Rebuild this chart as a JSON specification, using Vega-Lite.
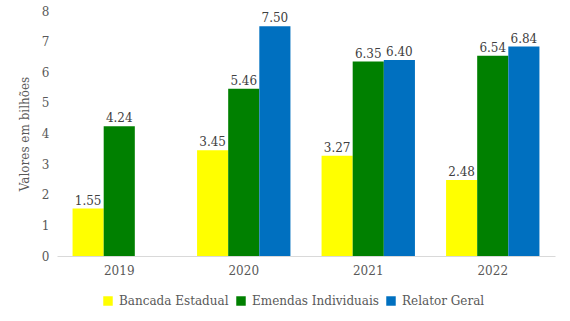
{
  "$schema": "https://vega.github.io/schema/vega-lite/v6.json",
  "autosize": {"type": "none"},
  "width": 498,
  "height": 245,
  "padding": {"left": 57, "top": 11, "right": 15, "bottom": 65},
  "background": "white",
  "config": {
    "font": "DejaVu Serif",
    "view": {"stroke": null},
    "axis": {"labelColor": "#595959", "titleColor": "#595959", "labelFont": "DejaVu Serif", "titleFont": "DejaVu Serif"},
    "legend": {"labelFont": "DejaVu Serif"}
  },
  "data": {
    "values": [
      {"ano": "2019", "serie": "Bancada Estadual", "valor": 1.55},
      {"ano": "2019", "serie": "Emendas Individuais", "valor": 4.24},
      {"ano": "2020", "serie": "Bancada Estadual", "valor": 3.45},
      {"ano": "2020", "serie": "Emendas Individuais", "valor": 5.46},
      {"ano": "2020", "serie": "Relator Geral", "valor": 7.50},
      {"ano": "2021", "serie": "Bancada Estadual", "valor": 3.27},
      {"ano": "2021", "serie": "Emendas Individuais", "valor": 6.35},
      {"ano": "2021", "serie": "Relator Geral", "valor": 6.40},
      {"ano": "2022", "serie": "Bancada Estadual", "valor": 2.48},
      {"ano": "2022", "serie": "Emendas Individuais", "valor": 6.54},
      {"ano": "2022", "serie": "Relator Geral", "valor": 6.84}
    ]
  },
  "encoding": {
    "x": {
      "field": "ano", "type": "nominal",
      "scale": {"paddingInner": 0.25, "paddingOuter": 0.125},
      "axis": {"title": null, "labelAngle": 0, "labelFontSize": 12, "labelPadding": 9, "ticks": false, "domainColor": "#d9d9d9", "grid": false}
    },
    "xOffset": {
      "field": "serie", "type": "nominal",
      "scale": {"domain": ["Bancada Estadual", "Emendas Individuais", "Relator Geral"]}
    },
    "y": {
      "field": "valor", "type": "quantitative",
      "scale": {"domain": [0, 8]},
      "axis": {"title": "Valores em bilhões", "titleFontSize": 12, "titleFontWeight": "normal", "titlePadding": 10, "labelFontSize": 12, "labelPadding": 8, "tickCount": 8, "ticks": false, "domain": false, "grid": false}
    }
  },
  "layer": [
    {
      "mark": {"type": "bar"},
      "encoding": {
        "color": {
          "field": "serie", "type": "nominal",
          "scale": {"domain": ["Bancada Estadual", "Emendas Individuais", "Relator Geral"], "range": ["#FFFF00", "#008000", "#0070C0"]},
          "legend": {"title": null, "orient": "none", "legendX": 45, "legendY": 284, "direction": "horizontal", "symbolType": "square", "symbolSize": 90, "symbolStrokeWidth": 0, "labelFontSize": 12, "labelColor": "#595959", "labelOffset": 5, "columnPadding": 6}
        }
      }
    },
    {
      "mark": {"type": "text", "dy": -8, "fontSize": 12, "color": "#404040", "font": "DejaVu Serif"},
      "encoding": {"text": {"field": "valor", "type": "quantitative", "format": ".2f"}}
    }
  ]
}
